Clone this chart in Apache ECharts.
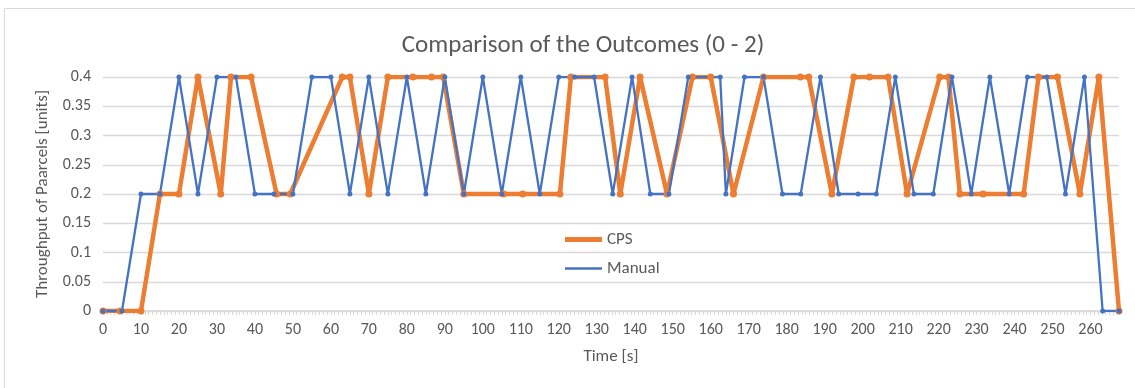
<!DOCTYPE html>
<html>
<head>
<meta charset="utf-8">
<script src="https://cdn.jsdelivr.net/npm/echarts@6/dist/echarts.min.js"></script>
<style>
html, body { margin: 0; padding: 0; background: #fff; }
#chart { width: 1135px; height: 388px; }
</style>
</head>
<body>
<div id="chart"></div>
<script>
// time [s] and throughput for each run
var cpsTime = [0, 4.5, 10, 15, 20, 25, 31, 33.7, 39, 45.7, 49.3, 63, 65, 70, 75, 81.6, 86.5, 89.6, 95,
	105.5, 110.5, 120.3, 123.2, 132.2, 136.2, 141.4, 148.5, 155.2, 160, 166, 173.9, 183.6, 185.8, 191.9,
	197.7, 201.8, 206.7, 211.7, 220.3, 222.6, 225.6, 231.7, 242.4, 246.3, 251.3, 257.2, 262.2, 267.5];
var cpsValue = [0, 0, 0, 0.2, 0.2, 0.4, 0.2, 0.4, 0.4, 0.2, 0.2, 0.4, 0.4, 0.2, 0.4, 0.4, 0.4, 0.4, 0.2,
	0.2, 0.2, 0.2, 0.4, 0.4, 0.2, 0.4, 0.2, 0.4, 0.4, 0.2, 0.4, 0.4, 0.4, 0.2,
	0.4, 0.4, 0.4, 0.2, 0.4, 0.4, 0.2, 0.2, 0.2, 0.4, 0.4, 0.2, 0.4, 0];
var manualTime = [0, 5, 10, 15, 20, 25, 30, 35, 40, 45, 50, 55, 60, 65, 70, 75, 80, 85, 90, 95, 100,
	105, 110, 115, 120, 124.2, 129.3, 134.2, 139.3, 144.1, 149, 154.1, 162.5, 164, 168.9, 173.9, 178.9,
	183.7, 188.9, 193.7, 198.8, 203.6, 208.6, 213.5, 218.6, 223.5, 228.6, 233.5, 238.6, 243.4, 248.5,
	253.4, 258.4, 263.2, 267.5];
var manualValue = [0, 0, 0.2, 0.2, 0.4, 0.2, 0.4, 0.4, 0.2, 0.2, 0.2, 0.4, 0.4, 0.2, 0.4, 0.2, 0.4, 0.2, 0.4, 0.2, 0.4,
	0.2, 0.4, 0.2, 0.4, 0.4, 0.4, 0.2, 0.4, 0.2, 0.2, 0.4, 0.4, 0.2, 0.4, 0.4, 0.2,
	0.2, 0.4, 0.2, 0.2, 0.2, 0.4, 0.2, 0.2, 0.4, 0.2, 0.4, 0.2, 0.4, 0.4,
	0.2, 0.4, 0, 0];
var seriesNames = ['CPS', 'Manual'];
var xMin = 0, xMax = 267.5, xStep = 10;
var yMin = 0, yMax = 0.4, yStep = 0.05;

function pairs(xs, ys) {
	var out = [];
	for (var i = 0; i < xs.length; i++) out.push([xs[i], ys[i]]);
	return out;
}

var font = 'Carlito, Lato, sans-serif', txt = '#595959', gridCol = '#d9d9d9';

var e = echarts.init(document.getElementById('chart'));
e.setOption({
	animation : false,
	title : {
		text : 'Comparison of the Outcomes (0 - 2)',
		left : 578,
		top : 28,
		textAlign : 'center',
		textStyle : { fontFamily : font, fontSize : 25, fontWeight : 'normal', color : txt }
	},
	graphic : [{
		type : 'rect',
		shape : { x : 4.5, y : 8.5, width : 1140, height : 390 },
		style : { fill : 'none', stroke : gridCol, lineWidth : 1 },
		silent : true
	}],
	legend : [{
		data : [seriesNames[0]],
		orient : 'vertical',
		left : 560,
		top : 226,
		itemWidth : 37,
		itemHeight : 5,
		icon : 'rect',
		textStyle : { fontFamily : font, fontSize : 17, color : txt }
	}, {
		data : [seriesNames[1]],
		orient : 'vertical',
		left : 560,
		top : 255,
		itemWidth : 37,
		itemHeight : 2.5,
		icon : 'rect',
		textStyle : { fontFamily : font, fontSize : 17, color : txt }
	}],
	grid : { left : 103, right : 16, top : 77, bottom : 77, containLabel : false },
	xAxis : {
		type : 'value',
		min : xMin,
		max : xMax,
		interval : xStep,
		name : 'Time [s]',
		nameLocation : 'middle',
		nameGap : 37,
		nameTextStyle : { fontFamily : font, fontSize : 17, color : txt },
		axisLine : { show : true, onZero : false, lineStyle : { color : gridCol, width : 1.5 } },
		axisTick : { show : true, length : 4, lineStyle : { color : gridCol } },
		minorTick : { show : true, splitNumber : 10, length : 4, lineStyle : { color : gridCol } },
		axisLabel : { showMaxLabel : false, margin : 11, fontFamily : font, fontSize : 16, color : txt },
		splitLine : { show : false }
	},
	yAxis : {
		type : 'value',
		min : yMin,
		max : yMax,
		interval : yStep,
		name : 'Throughput of Paarcels [units]',
		nameLocation : 'middle',
		nameGap : 50,
		nameTextStyle : { fontFamily : font, fontSize : 17, color : txt },
		axisLine : { show : false },
		axisTick : { show : false },
		axisLabel : { margin : 12, fontFamily : font, fontSize : 16, color : txt },
		splitLine : { show : true, lineStyle : { color : gridCol, width : 1.3 } }
	},
	series : [{
		name : seriesNames[0],
		type : 'line',
		data : pairs(cpsTime, cpsValue),
		color : '#ED7D31',
		lineStyle : { width : 4.5, color : '#ED7D31' },
		itemStyle : { color : '#ED7D31' },
		symbol : 'circle',
		symbolSize : 7
	}, {
		name : seriesNames[1],
		type : 'line',
		data : pairs(manualTime, manualValue),
		color : '#4472C4',
		lineStyle : { width : 2.3, color : '#4472C4' },
		itemStyle : { color : '#4472C4' },
		symbol : 'circle',
		symbolSize : 5
	}]
});
</script>
</body>
</html>
